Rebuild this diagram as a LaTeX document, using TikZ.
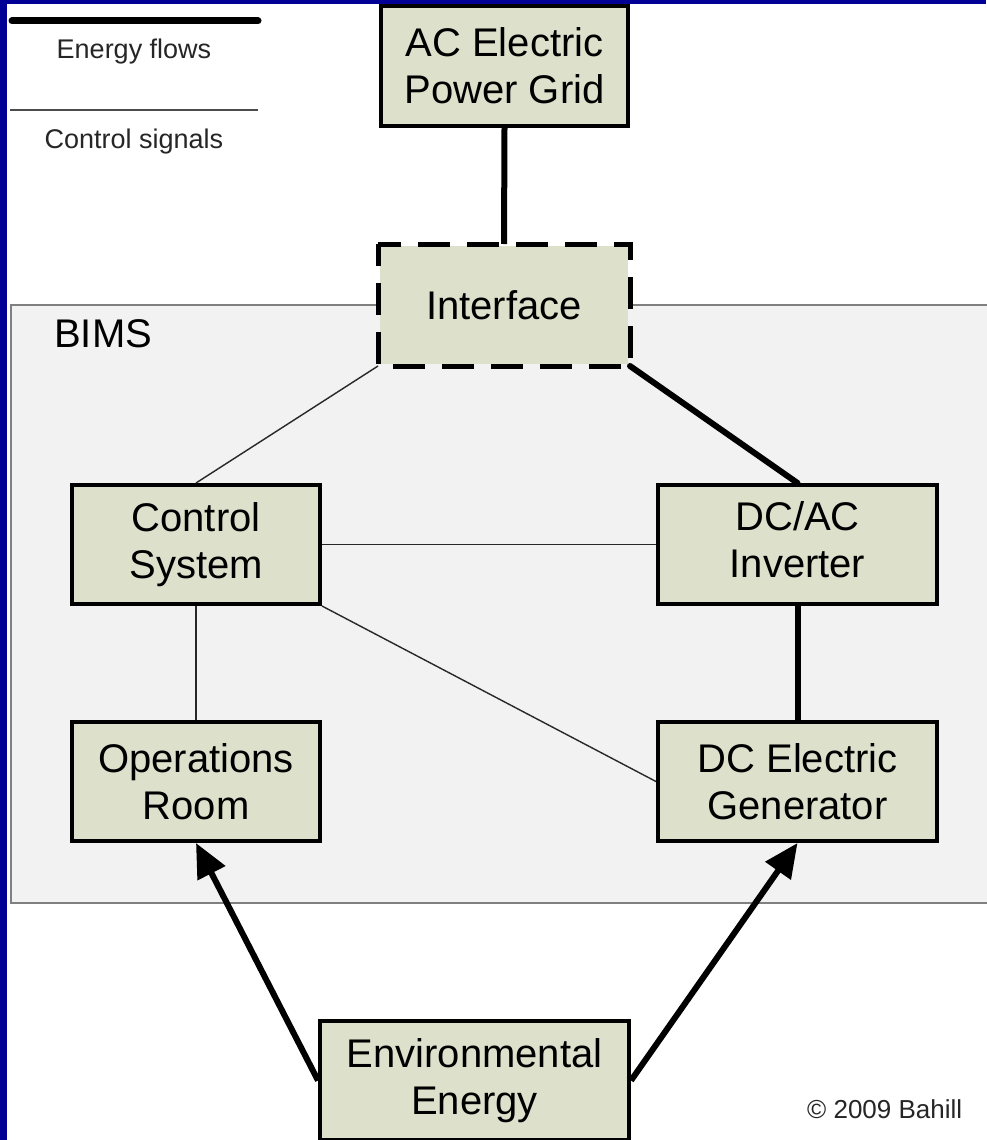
\documentclass[tikz,border=0pt]{standalone}
\usepackage{fontspec}
\setmainfont{Liberation Sans}
\usetikzlibrary{arrows.meta}
\definecolor{framecol}{RGB}{0,0,150}
\definecolor{boxfill}{RGB}{221,224,203}
\definecolor{bimsfill}{RGB}{242,242,242}
\definecolor{bimsline}{RGB}{128,128,128}
\definecolor{signal}{RGB}{40,40,40}
\tikzset{
  block/.style={draw=black, line width=4pt, fill=boxfill, inner sep=0pt,
    align=center, font=\fontsize{40}{47}\selectfont},
  energy/.style={draw=black, line width=6pt},
  signalline/.style={draw=signal, line width=1.4pt},
  flowarrow/.style={energy, -{Triangle[length=34pt,width=30pt]}},
  smalltext/.style={inner sep=0pt, font=\fontsize{27}{30}\selectfont, text=black!85}
}
\begin{document}
\begin{tikzpicture}[x=1pt,y=-1pt]
  \useasboundingbox (0,0) rectangle (986,1140);
  \fill[white] (0,0) rectangle (986,1140);
  % system boundary
  \fill[bimsfill] (11,305) rectangle (992,903);
  \draw[bimsline, line width=2pt] (992,305) -- (11,305) -- (11,903) -- (992,903);
  \node[anchor=base west, inner sep=0pt, font=\fontsize{40}{47}\selectfont] (bims) at (54,347) {BIMS};

  % legend
  \draw[line width=7pt, line cap=round] (12,21) -- (258,21);
  \node[smalltext, anchor=base] (lgE) at (134,59) {Energy flows};
  \draw[draw=black!70, line width=1.5pt] (10,110) -- (258,110);
  \node[smalltext, anchor=base] (lgC) at (134,148) {Control signals};

  % blocks
  \node[block, minimum width=247pt, minimum height=120pt] (grid) at (504.5,66) {AC Electric\\Power Grid};
  \node[block, draw=none, minimum width=248pt, minimum height=118pt] (iface) at (504,305) {Interface};
  \node[block, minimum width=248pt, minimum height=119pt] (ctrl) at (196,544.5) {Control\\System};
  \node[block, minimum width=279pt, minimum height=119pt] (inv) at (797.5,544.5) {DC/AC\\Inverter\rule[-9pt]{0pt}{9pt}};
  \node[block, minimum width=248pt, minimum height=119pt] (ops) at (196,781.5) {Operations\\Room};
  \node[block, minimum width=279pt, minimum height=119pt] (gen) at (797.5,781.5) {DC Electric\\Generator};
  \node[block, minimum width=309pt, minimum height=119pt] (env) at (474.5,1080.5) {Environmental\\Energy};

  % dashed outline of the interface
  \draw[line width=5pt, dash pattern=on 32pt off 17pt, dash phase=10pt]
    (iface.north west) rectangle (iface.south east);

  % energy flows
  \draw[energy] (grid.south) -- (iface.north);
  \draw[energy, line cap=round] (iface.south east) -- (inv.north);
  \draw[energy] (inv.south) -- (gen.north);
  \coordinate (envL) at (env.west);
  \coordinate (envR) at (env.east);
  \draw[flowarrow] (envL) -- (ops.south);
  \draw[flowarrow] (envR) -- (gen.south);

  % control signals
  \draw[signalline] (iface.south west) -- (ctrl.north);
  \draw[signalline] (ctrl.east) -- (inv.west);
  \draw[signalline] (ctrl.south east) -- (gen.west);
  \draw[signalline] (ctrl.south) -- (ops.north);

  \node[smalltext, anchor=base west, font=\fontsize{26}{30}\selectfont] (copy) at (807,1118) {© 2009 Bahill};

  % outer frame
  \fill[framecol] (0,0) rectangle (7,1140);
  \fill[framecol] (0,0) rectangle (986,4);
\end{tikzpicture}
\end{document}
